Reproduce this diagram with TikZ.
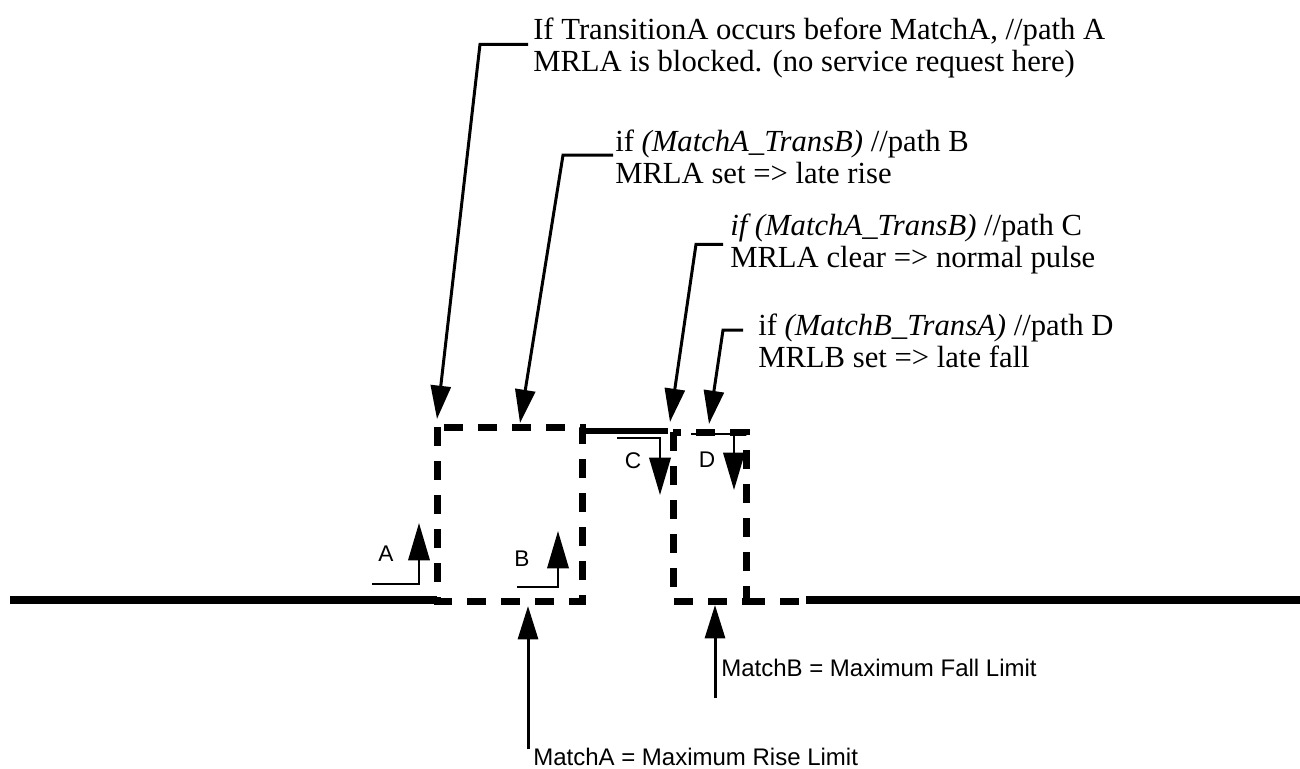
\documentclass[tikz,border=0pt]{standalone}
\usepackage{fontspec}
\setmainfont{Liberation Serif}
\newfontfamily\arialf{Liberation Sans}
\usetikzlibrary{arrows.meta,calc}
\begin{document}
\begin{tikzpicture}[x=0.75pt,y=-0.75pt,
  note/.style={anchor=north west, inner sep=0pt, align=left, font=\fontsize{23}{24}\selectfont},
  siglbl/.style={inner sep=0pt, font=\arialf\fontsize{17}{18}\selectfont},
  limitlbl/.style={anchor=base west, inner sep=0pt, font=\arialf\fontsize{18}{20}\selectfont},
  callout/.style={line width=2.25pt, -{Triangle[length=25pt,width=15pt]}},
  transarrow/.style={line width=1.9pt, -{Triangle[length=28pt,width=16pt]}},
  signal/.style={line width=6pt},
  winbox/.style={line width=5.25pt, dash pattern=on 14.25pt off 11.25pt},
]
\useasboundingbox (0,0) rectangle (1300,768);

% signal levels
\draw[signal] (10,600) -- (437,600);
\draw[signal] (806,600) -- (1300,600);
\draw[line width=4.5pt] (582,431) -- (668,431);

% dashed windows
\draw[winbox] (437,427) rectangle (582,601);
\draw[winbox] (673,432) rectangle (746,601);
\draw[winbox] (746,601) -- (805,601);

% transition arrows
\node[siglbl] (lA) at (386,554) {A};
\node[siglbl] (lB) at (522,559) {B};
\node[siglbl] (lC) at (633,461) {C};
\node[siglbl] (lD) at (707,460) {D};
\coordinate (aA0) at (372,584); \coordinate (aA1) at (419,523);
\coordinate (aB0) at (517,587); \coordinate (aB1) at (558,531);
\coordinate (aC0) at (617,438); \coordinate (aC1) at (660,495);
\coordinate (aD0) at (691,434); \coordinate (aD1) at (734,490);
\draw[transarrow] (aA0) -| (aA1);
\draw[transarrow] (aB0) -| (aB1);
\draw[transarrow] (aC0) -| (aC1);
\draw[transarrow] (aD0) -| (aD1);

% notes
\node[note] (tA) at (533,18) {If TransitionA occurs before MatchA, //path A\\MRLA is blocked. (no service request here)};
\node[note] (tB) at (615,130) {if \textit{(MatchA\_TransB)} //path B\\MRLA set => late rise};
\node[note] (tC) at (730,214) {\textit{if (MatchA\_TransB)} //path C\\MRLA clear => normal pulse};
\node[note] (tD) at (758,314) {if \textit{(MatchB\_TransA)} //path D\\MRLB set => late fall};

\coordinate (pA) at (437,419);
\coordinate (pB) at (520,423);
\coordinate (pC) at (670,422);
\coordinate (pD) at (709,424);
\draw[callout] ($(tA.west)+(-5,-4)$) -- ++(-48,0) -- (pA);
\draw[callout] ($(tB.west)+(-2,-2)$) -- ++(-50,0) -- (pB);
\draw[callout] ($(tC.west)+(-7,0)$) -- ++(-27,0) -- (pC);
\draw[callout] ($(tD.west)+(-15,-11)$) -- ++(-20,0) -- (pD);

% limits
\node[limitlbl] (mA) at (533,765) {MatchA = Maximum Rise Limit};
\node[limitlbl] (mB) at (721,676) {MatchB = Maximum Fall Limit};
\coordinate (qA) at (528,606);
\coordinate (qB) at (715,605);
\draw[callout] (mA.north west -| qA) ++(0,2) -- (qA);
\draw[callout] (mB.south west -| qB) ++(0,21) -- (qB);
\end{tikzpicture}
\end{document}
